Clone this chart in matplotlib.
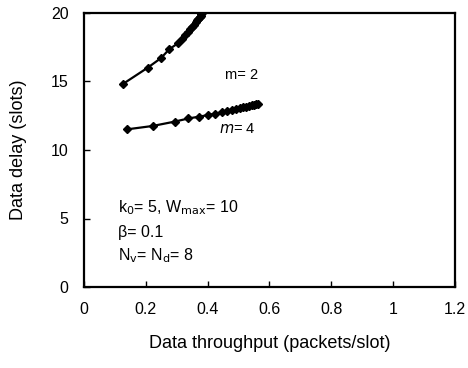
import matplotlib
matplotlib.use('Agg')
import matplotlib.pyplot as plt

plt.rcParams['font.family'] = ['Liberation Sans', 'DejaVu Sans']

# m = 2 curve
x_m2 = [0.125, 0.206, 0.249, 0.276, 0.305, 0.318, 0.328, 0.337, 0.344, 0.350,
        0.356, 0.361, 0.366, 0.370, 0.374, 0.377, 0.380, 0.383]
y_m2 = [14.8, 16.0, 16.7, 17.35, 17.8, 18.1, 18.35, 18.6, 18.8, 18.97,
        19.15, 19.3, 19.45, 19.57, 19.7, 19.8, 19.9, 20.0]

# m = 4 curve
x_m4 = [0.138, 0.222, 0.294, 0.338, 0.373, 0.402, 0.425, 0.445, 0.463, 0.478,
        0.492, 0.504, 0.515, 0.525, 0.534, 0.542, 0.549, 0.556, 0.562]
y_m4 = [11.5, 11.75, 12.07, 12.3, 12.43, 12.55, 12.65, 12.75, 12.84, 12.92,
        12.99, 13.05, 13.11, 13.16, 13.21, 13.25, 13.29, 13.33, 13.36]

xticks = [0, 0.2, 0.4, 0.6, 0.8, 1, 1.2]
xtick_labels = ['0', '0.2', '0.4', '0.6', '0.8', '1', '1.2']
yticks = [0, 5, 10, 15, 20]

fig = plt.figure(figsize=(4.68, 3.68), dpi=100)
ax = fig.add_axes([0.1795, 0.22, 0.7925, 0.745])

ax.plot(x_m2, y_m2, color='black', lw=1.6, marker='D', ms=4.2)
ax.plot(x_m4, y_m4, color='black', lw=1.6, marker='D', ms=4.2)

ax.text(0.455, 15.5, 'm= 2', fontsize=10.5, va='center')
ax.text(0.437, 11.5, r'$m$= 4', fontsize=10.5, va='center')

ax.text(0.11, 5.77, r'k$_0$= 5, W$_{\mathrm{max}}$= 10', fontsize=11.5, va='center')
ax.text(0.11, 4.0, 'β= 0.1', fontsize=11.5, va='center')
ax.text(0.11, 2.26, r'N$_\mathrm{v}$= N$_\mathrm{d}$= 8', fontsize=11.5, va='center')

ax.set_xlim(0, 1.2)
ax.set_ylim(0, 20)
ax.set_xticks(xticks)
ax.set_xticklabels(xtick_labels)
ax.set_yticks(yticks)
ax.tick_params(direction='in', length=4, width=1, labelsize=11.5, pad=11)
for s in ax.spines.values():
    s.set_linewidth(1.6)

ax.set_xlabel('Data throughput (packets/slot)', fontsize=13, labelpad=13)
ax.set_ylabel('Data delay (slots)', fontsize=13, labelpad=17)

fig.savefig('out.png', dpi=100)
